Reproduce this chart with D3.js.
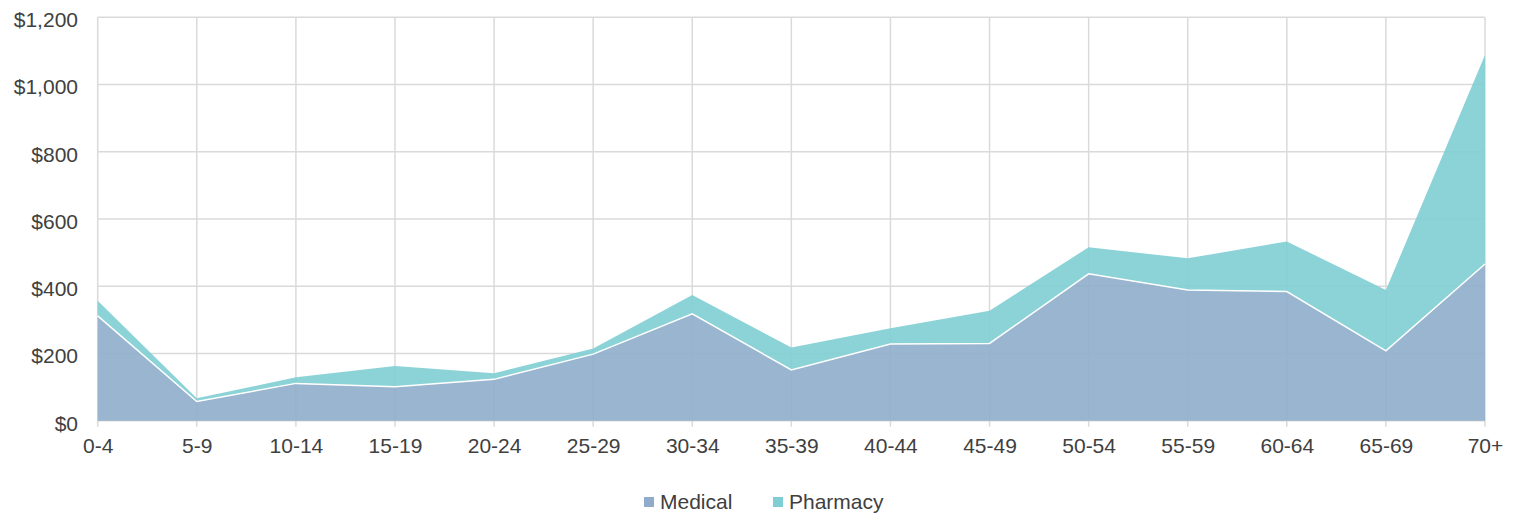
<!DOCTYPE html>
<html>
<head>
<meta charset="utf-8">
<script src="https://cdn.jsdelivr.net/npm/d3@7/dist/d3.min.js"></script>
<style>
  html, body { margin: 0; padding: 0; background: #fff; }
  svg { display: block; font-family: "Liberation Sans", Arial, sans-serif; }
</style>
</head>
<body>
<svg id="chart" width="1520" height="515"></svg>
<script>
const categories = ["0-4","5-9","10-14","15-19","20-24","25-29","30-34","35-39","40-44","45-49","50-54","55-59","60-64","65-69","70+"];
const medical  = [312, 57, 111, 101, 123, 198, 318, 151, 228, 230, 437, 389, 384, 208, 466];
const pharmacy = [45, 10, 18, 62, 18, 17, 56, 67, 47, 97, 79, 94, 149, 181, 622];
const seriesNames = ["Medical", "Pharmacy"];
const seriesColors = ["#8fadcb", "#7fced4"];
const yTicks = [0, 200, 400, 600, 800, 1000, 1200];

(function () {
const svg = d3.select("#chart");
const pLeft = 97.7, pRight = 1485, pTop = 17.3, pBottom = 420.7;

const x = d3.scalePoint().domain(categories).range([pLeft, pRight]);
const y = d3.scaleLinear().domain([0, 1200]).range([pBottom, pTop]);

const rows = categories.map((c, i) => ({ cat: c, Medical: medical[i], Pharmacy: pharmacy[i] }));
const stacked = d3.stack().keys(seriesNames)(rows);

// gridlines
const grid = svg.append("g");
grid.selectAll("line.h").data(yTicks).join("line")
  .attr("class", "h")
  .attr("x1", pLeft).attr("x2", pRight)
  .attr("y1", d => y(d)).attr("y2", d => y(d))
  .attr("stroke", "#dadada").attr("stroke-width", 1.5);
grid.selectAll("line.v").data(categories).join("line")
  .attr("class", "v")
  .attr("x1", d => x(d)).attr("x2", d => x(d))
  .attr("y1", pTop).attr("y2", pBottom + 6)
  .attr("stroke", "#dadada").attr("stroke-width", 1.5);

// areas
const area = d3.area()
  .x((d, i) => x(categories[i]))
  .y0(d => y(d[0]))
  .y1(d => y(d[1]));

svg.append("g").selectAll("path").data(stacked).join("path")
  .attr("d", area)
  .attr("fill", (d, i) => seriesColors[i])
  .attr("fill-opacity", 0.9);

// white line on top of medical
const line = d3.line().x((d, i) => x(categories[i])).y(d => y(d[1]));
svg.append("path").datum(stacked[0]).attr("d", line)
  .attr("fill", "none").attr("stroke", "#fff").attr("stroke-width", 1.5);

// axes
const yAxis = d3.axisLeft(y).tickValues(yTicks).tickSize(0).tickPadding(0)
  .tickFormat(d => "$" + d3.format(",")(d));
const gy = svg.append("g").attr("transform", `translate(${78},0)`).call(yAxis);
gy.select(".domain").remove();
gy.selectAll("text").attr("fill", "#404040").style("font-size", "21px")
  .attr("dy", "0.45em").attr("x", 0);

const xAxis = d3.axisBottom(x).tickSize(0).tickPadding(0);
const gx = svg.append("g").attr("transform", `translate(0,453)`).call(xAxis);
gx.select(".domain").remove();
gx.selectAll("text").attr("fill", "#404040").style("font-size", "21px").attr("dy", 0).attr("y", 0);

// legend
const legend = svg.append("g");
const legendX = [644, 773];
seriesNames.forEach((name, i) => {
  legend.append("rect").attr("x", legendX[i]).attr("y", 497).attr("width", 10).attr("height", 10)
    .attr("fill", seriesColors[i]);
  legend.append("text").attr("x", legendX[i] + 16).attr("y", 509)
    .attr("fill", "#404040").style("font-size", "21px").text(name);
});
})();
</script>
</body>
</html>
